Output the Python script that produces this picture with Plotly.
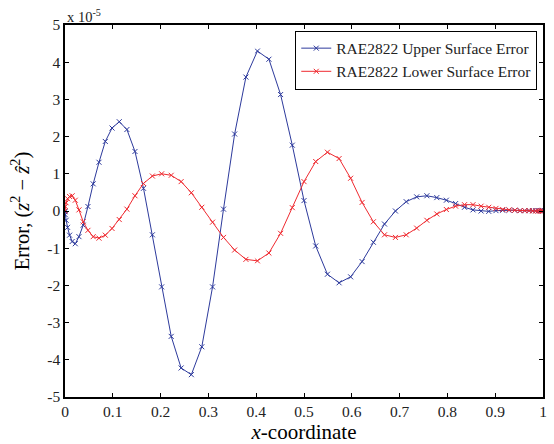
import plotly.graph_objects as go

# x-coordinates of the surface points (dense near LE and TE)
x_coord = [0.0, 0.0006, 0.0024, 0.0054, 0.0096, 0.0150, 0.0215, 0.0292, 0.0381, 0.0480,
           0.0590, 0.0711, 0.0843, 0.0984, 0.1135, 0.1295, 0.1464, 0.1642, 0.1828, 0.2022,
           0.2222, 0.2429, 0.2643, 0.2862, 0.3087, 0.3316, 0.3549, 0.3785, 0.4025, 0.4266,
           0.4510, 0.4755, 0.5000, 0.5245, 0.5490, 0.5734, 0.5975, 0.6215, 0.6451, 0.6684,
           0.6913, 0.7138, 0.7357, 0.7571, 0.7778, 0.7978, 0.8172, 0.8358, 0.8536, 0.8705,
           0.8865, 0.9016, 0.9157, 0.9289, 0.9410, 0.9520, 0.9619, 0.9708, 0.9785, 0.9850,
           0.9904, 0.9946, 0.9976, 0.9994, 1.0]

# errors in units of 1e-5
upper_err = [-0.02, -0.10, -0.25, -0.44, -0.65, -0.82, -0.88, -0.69, -0.38, 0.12,
             0.73, 1.31, 1.87, 2.23, 2.40, 2.19, 1.60, 0.61, -0.64, -2.04,
             -3.37, -4.22, -4.40, -3.65, -2.04, 0.05, 2.07, 3.60, 4.30, 4.08,
             3.13, 1.77, 0.28, -0.94, -1.70, -1.93, -1.77, -1.36, -0.84, -0.35,
             0.00, 0.25, 0.38, 0.41, 0.36, 0.29, 0.20, 0.10, 0.03, 0.00,
             -0.01, 0.01, 0.02, 0.02, 0.02, 0.01, 0.01, 0.01, 0.01, 0.01,
             0.01, 0.01, 0.01, 0.01, 0.01]

lower_err = [0.00, 0.12, 0.22, 0.33, 0.39, 0.41, 0.29, 0.03, -0.29, -0.52,
             -0.69, -0.73, -0.65, -0.47, -0.23, 0.05, 0.41, 0.74, 0.94, 1.00,
             0.96, 0.79, 0.49, 0.10, -0.30, -0.71, -1.05, -1.30, -1.34, -1.13,
             -0.60, 0.09, 0.79, 1.33, 1.58, 1.41, 0.88, 0.23, -0.29, -0.64,
             -0.71, -0.64, -0.46, -0.25, -0.08, 0.04, 0.13, 0.17, 0.17, 0.13,
             0.10, 0.07, 0.04, 0.03, 0.02, 0.01, 0.01, 0.01, 0.00, 0.00,
             0.00, 0.00, 0.00, 0.00, 0.00]

x_ticks = [0, 0.1, 0.2, 0.3, 0.4, 0.5, 0.6, 0.7, 0.8, 0.9, 1]
x_tick_text = ["0", "0.1", "0.2", "0.3", "0.4", "0.5", "0.6", "0.7", "0.8", "0.9", "1"]
y_ticks = [-5, -4, -3, -2, -1, 0, 1, 2, 3, 4, 5]
y_tick_text = ["-5", "-4", "-3", "-2", "-1", "0", "1", "2", "3", "4", "5"]

BLUE = "#2d3a9c"
RED = "#ef2a30"
FONT = "Liberation Serif"

fig = go.Figure()
fig.add_trace(go.Scatter(
    x=x_coord, y=upper_err, mode="lines+markers",
    name="RAE2822 Upper Surface Error",
    line=dict(color=BLUE, width=1),
    marker=dict(symbol="x-thin", size=5, line=dict(color=BLUE, width=1), color=BLUE),
))
fig.add_trace(go.Scatter(
    x=x_coord, y=lower_err, mode="lines+markers",
    name="RAE2822 Lower Surface Error",
    line=dict(color=RED, width=1),
    marker=dict(symbol="x-thin", size=5, line=dict(color=RED, width=1), color=RED),
))

axis_common = dict(
    showgrid=False, zeroline=False, showline=True, linecolor="black", linewidth=1.5,
    mirror="ticks", ticks="inside", ticklen=4, tickwidth=1, tickcolor="black",
    tickfont=dict(family=FONT, size=15.5, color="#222"), automargin=False,
)

fig.update_xaxes(range=[0, 1], tickvals=x_ticks, ticktext=x_tick_text,
                 title=dict(text="<i>x</i>-coordinate", font=dict(family=FONT, size=21, color="black"), standoff=4),
                 **axis_common)
fig.update_yaxes(range=[-5, 5], tickvals=y_ticks, ticktext=y_tick_text,
                 title=dict(text="Error, (<i>z</i><sup>2</sup> − <i>ẑ</i><sup>2</sup>)",
                            font=dict(family=FONT, size=20.5, color="black"), standoff=12),
                 **axis_common)

fig.add_annotation(xref="paper", yref="paper", x=0, y=1, xanchor="left", yanchor="bottom",
                   text="x 10<sup>-5</sup>", showarrow=False, yshift=-2,
                   font=dict(family=FONT, size=14.5, color="#222"))

fig.update_layout(
    width=554, height=444,
    margin=dict(l=65, r=11, t=25, b=47, autoexpand=False),
    paper_bgcolor="white", plot_bgcolor="white",
    showlegend=True,
    legend=dict(x=0.988, y=0.985, xanchor="right", yanchor="top",
                bgcolor="white", bordercolor="black", borderwidth=1,
                font=dict(family=FONT, size=15.5, color="#222"),
                tracegroupgap=0, itemwidth=30),
)

fig.write_html("out.html")
